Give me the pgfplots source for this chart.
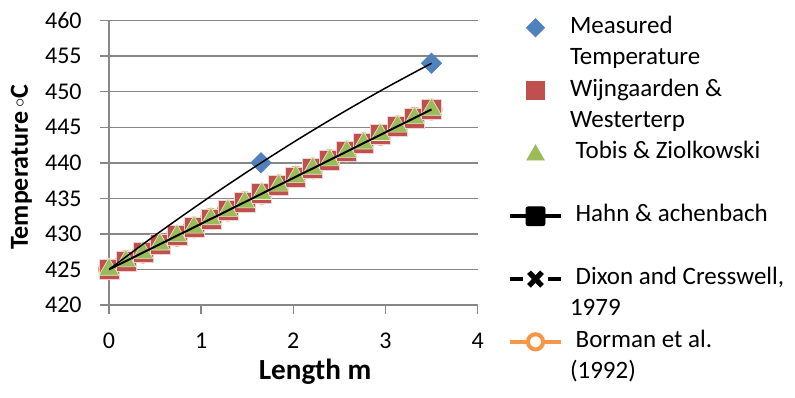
\documentclass[border=0pt]{standalone}
\usepackage{fontspec}
\setmainfont{Carlito}
\usepackage{pgfplots}
\pgfplotsset{compat=1.18}
\definecolor{mblue}{HTML}{4F81BD}
\definecolor{mred}{HTML}{C0504D}
\definecolor{mgreen}{HTML}{9BBB59}
\definecolor{morange}{HTML}{F79646}
\definecolor{gridgray}{HTML}{878787}
\begin{document}
\begin{tikzpicture}
\useasboundingbox (-54.5pt,-46pt) rectangle (343pt,152.5pt);
\begin{axis}[
  at={(0,0)}, anchor=south west,
  scale only axis, width=184.3pt, height=142.2pt,
  xmin=0, xmax=4, ymin=420, ymax=460,
  clip mode=individual,
  xtick={0,1,2,3,4}, ytick={420,425,...,460},
  axis x line*=bottom, axis y line*=left,
  axis line style={gridgray, line width=0.75pt, -},
  ymajorgrids, grid style={gridgray, line width=0.75pt},
  tick style={gridgray, line width=0.75pt},
  tick align=outside, major tick length=4.5pt,
  /pgf/number format/assume math mode=true,
  ticklabel style={font=\fontsize{12}{14}\selectfont},
  yticklabel style={anchor=east, inner sep=0pt, xshift=-9pt},
  xticklabel style={anchor=north, inner sep=0pt, yshift=-9.5pt},
  xlabel={\textbf{Length m}},
  ylabel={\textbf{Temperature\,\raisebox{1.6pt}{$\scriptstyle\circ$}C}},
  xlabel style={font=\fontsize{14.6}{16}\selectfont, at={(axis description cs:0.559,0)}, anchor=center, yshift=-33.5pt},
  ylabel style={font=\fontsize{13}{15}\selectfont, at={(axis description cs:-0.238,0.485)}, anchor=center},
  legend style={at={(1.0825,1.015)}, anchor=north west, draw=none, fill=none,
    inner sep=0pt, outer sep=0pt, row sep=4.2pt, column sep=3.5pt,
    font=\fontsize{12.5}{14}\selectfont,
    nodes={inner sep=0pt, text height=8.5pt, text depth=3pt}},
  legend cell align=left,
]
% Borman et al. (orange circles, behind)
\addplot[only marks, mark=*, mark size=5.3pt, mark options={fill=morange, draw=morange}, forget plot] coordinates {
(0,425) (0.1842,426.18) (0.3684,427.37) (0.5526,428.55) (0.7368,429.74) (0.9211,430.92)
(1.1053,432.11) (1.2895,433.29) (1.4737,434.47) (1.6579,435.66) (1.8421,436.84)
(2.0263,438.03) (2.2105,439.21) (2.3947,440.39) (2.5789,441.58) (2.7632,442.76)
(2.9474,443.95) (3.1316,445.13) (3.3158,446.32) (3.5,447.5)};
% Wijngaarden & Westerterp (red squares)
\addplot[only marks, mark=square*, mark size=5pt, mark options={fill=mred, draw=white!75!mred, line width=0.3pt}, forget plot] coordinates {
(0,425) (0.1842,426.18) (0.3684,427.37) (0.5526,428.55) (0.7368,429.74) (0.9211,430.92)
(1.1053,432.11) (1.2895,433.29) (1.4737,434.47) (1.6579,435.66) (1.8421,436.84)
(2.0263,438.03) (2.2105,439.21) (2.3947,440.39) (2.5789,441.58) (2.7632,442.76)
(2.9474,443.95) (3.1316,445.13) (3.3158,446.32) (3.5,447.5)};
% Tobis & Ziolkowski (green triangles)
\addplot[only marks, mark=triangle*, mark size=5.8pt, mark options={fill=mgreen, draw=white!75!mgreen, line width=0.3pt}, forget plot] coordinates {
(0,425) (0.1842,426.18) (0.3684,427.37) (0.5526,428.55) (0.7368,429.74) (0.9211,430.92)
(1.1053,432.11) (1.2895,433.29) (1.4737,434.47) (1.6579,435.66) (1.8421,436.84)
(2.0263,438.03) (2.2105,439.21) (2.3947,440.39) (2.5789,441.58) (2.7632,442.76)
(2.9474,443.95) (3.1316,445.13) (3.3158,446.32) (3.5,447.5)};
% Hahn & achenbach (straight black line)
\addplot[black, line width=1pt, no marks, forget plot] coordinates {(0,425) (3.5,447.5)};
% Measured temperature (blue diamonds)
\addplot[only marks, mark=square*, mark size=3.55pt, mark options={rotate=45, fill=mblue, draw=mblue}, forget plot] coordinates {(1.65,440) (3.5,454)};
% Dixon and Cresswell (upper curve)
\addplot[black, line width=0.75pt, smooth, no marks, forget plot] coordinates {
(0,425) (0.5,429.80) (1,434.37) (1.5,438.73) (2,442.88) (2.5,446.80) (3,450.51) (3.5,454.00)};
% legend
\addlegendimage{legend image code/.code={\draw[mblue, fill=mblue] plot[mark=square*, mark size=3.2pt, mark options={rotate=45}] coordinates {(12.75pt,0pt)};}}
\addlegendentry{Measured}
\addlegendimage{empty legend}
\addlegendentry{Temperature}
\addlegendimage{legend image code/.code={\draw[mred, fill=mred] plot[mark=square*, mark size=4.5pt] coordinates {(12.75pt,0pt)};}}
\addlegendentry{Wijngaarden \&}
\addlegendimage{empty legend}
\addlegendentry{Westerterp}
\addlegendimage{legend image code/.code={\draw[mgreen, fill=mgreen] plot[mark=triangle*, mark size=5pt] coordinates {(12.75pt,-0.8pt)};}}
\addlegendentry{\ Tobis \& Ziolkowski}
\addlegendimage{empty legend}
\addlegendentry{}
\addlegendimage{legend image code/.code={\draw[black, line width=2pt] (0pt,0pt) -- (25.5pt,0pt); \fill[black, rounded corners=1pt] (8pt,-4.7pt) rectangle (17.5pt,4.7pt);}}
\addlegendentry{\ Hahn \& achenbach}
\addlegendimage{empty legend}
\addlegendentry{}
\addlegendimage{legend image code/.code={\draw[black, line width=2pt] (0pt,0pt) -- (6.5pt,0pt); \draw[black, line width=2pt] (19pt,0pt) -- (25.5pt,0pt); \draw[black, line width=2.6pt] (9.5pt,-3.4pt) -- (16pt,3.4pt) (9.5pt,3.4pt) -- (16pt,-3.4pt);}}
\addlegendentry{\ Dixon and Cresswell,}
\addlegendimage{empty legend}
\addlegendentry{1979}
\addlegendimage{legend image code/.code={\draw[morange, line width=2pt] (0pt,0pt) -- (8.5pt,0pt) (17pt,0pt) -- (25.5pt,0pt); \draw[morange, line width=2pt, fill=white] (12.75pt,0pt) circle (3.8pt);}}
\addlegendentry{\ Borman et al.}
\addlegendimage{empty legend}
\addlegendentry{(1992)}
\end{axis}
\end{tikzpicture}
\end{document}
